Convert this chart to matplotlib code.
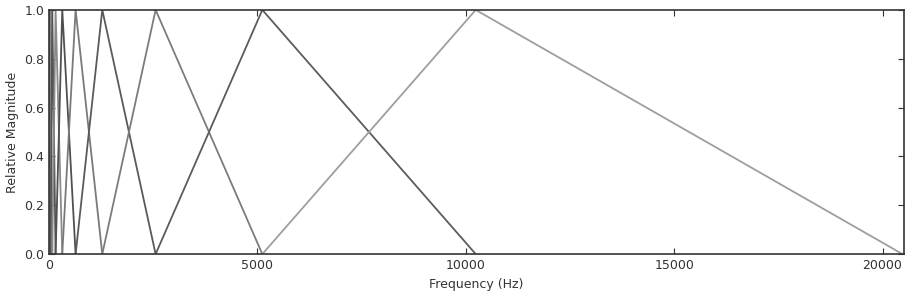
import matplotlib
matplotlib.use("Agg")
import matplotlib.pyplot as plt

# Octave-spaced triangular filter bank (vertex frequencies in Hz)
band_edges = [0, 20, 40, 80, 160, 320, 640, 1280, 2560, 5120, 10240, 20480]
peak_values = [0.0, 1.0, 0.0]

# Grey level for each triangle, lowest band first
band_colors = ["#555555", "#8a8a8a", "#555555", "#8a8a8a", "#505050",
               "#7a7a7a", "#5a5a5a", "#7c7c7c", "#5c5c5c", "#9e9e9e"]

fig = plt.figure(figsize=(9.06, 3.0), dpi=100)
ax = fig.add_axes([0.054, 0.153, 0.944, 0.814])

for i, c in enumerate(band_colors):
    ax.plot(band_edges[i:i + 3], peak_values, color=c, linewidth=1.3)

ax.set_xlim(0, 20520)
ax.set_ylim(0, 1.0)
ax.set_xticks([0, 5000, 10000, 15000, 20000])
ax.set_yticks([0.0, 0.2, 0.4, 0.6, 0.8, 1.0])
ax.set_yticklabels(["0.0", "0.2", "0.4", "0.6", "0.8", "1.0"])
ax.tick_params(direction="in", length=4, labelsize=9, colors="#333333",
               top=True, right=True)
for s in ax.spines.values():
    s.set_color("#333333")
    s.set_linewidth(1.2)

ax.set_xlabel("Frequency (Hz)", fontsize=9, color="#333333")
ax.set_ylabel("Relative Magnitude", fontsize=9, color="#333333")

plt.savefig("out.png", dpi=100)
plt.close()
